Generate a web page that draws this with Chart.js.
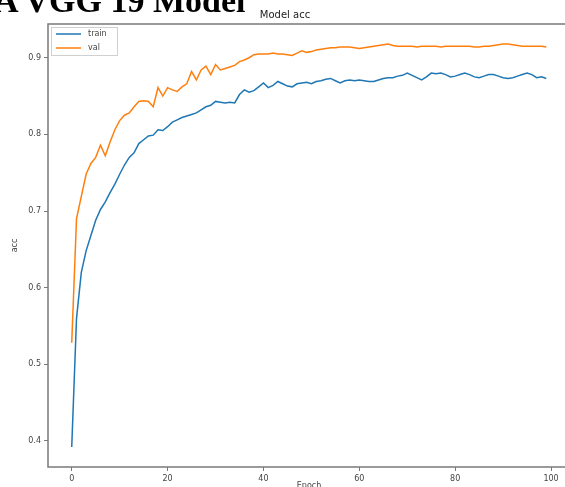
<!DOCTYPE html>
<html>
<head>
<meta charset="utf-8">
<script src="https://cdn.jsdelivr.net/npm/chart.js@4/dist/chart.umd.min.js"></script>
<style>
  html, body { margin: 0; padding: 0; background: #fff; overflow: hidden; width: 565px; height: 487px; }
  #wrap { position: relative; width: 565px; height: 487px; overflow: hidden; }
  #heading {
    position: absolute; left: -6px; top: -16.5px;
    font: bold 34px "Liberation Serif", "DejaVu Serif", serif;
    line-height: 1; color: #000; white-space: nowrap;
  }
  canvas { position: absolute; left: 0; top: 0; }
</style>
</head>
<body>
<div id="wrap">
  <canvas id="accChart" width="572" height="495"></canvas>
  <div id="heading">A VGG 19 Model</div>
</div>
<script>
// accuracy per epoch
const trainAcc = [
  0.392, 0.560, 0.620, 0.648, 0.668, 0.688, 0.702, 0.712, 0.724, 0.735,
  0.748, 0.760, 0.770, 0.776, 0.788, 0.793, 0.798, 0.799, 0.806, 0.805,
  0.810, 0.816, 0.819, 0.822, 0.824, 0.826, 0.828, 0.832, 0.836, 0.838,
  0.843, 0.842, 0.841, 0.842, 0.841, 0.852, 0.858, 0.855, 0.857, 0.862,
  0.867, 0.861, 0.864, 0.869, 0.866, 0.863, 0.862, 0.866, 0.867, 0.868,
  0.866, 0.869, 0.870, 0.872, 0.873, 0.870, 0.867, 0.870, 0.871, 0.870,
  0.871, 0.870, 0.869, 0.869, 0.871, 0.873, 0.874, 0.874, 0.876, 0.877,
  0.880, 0.877, 0.874, 0.871, 0.875, 0.880, 0.879, 0.880, 0.878, 0.875,
  0.876, 0.878, 0.880, 0.878, 0.875, 0.874, 0.876, 0.878, 0.878, 0.876,
  0.874, 0.873, 0.874, 0.876, 0.878, 0.880, 0.878, 0.874, 0.875, 0.873
];
const valAcc = [
  0.528, 0.690, 0.719, 0.748, 0.762, 0.770, 0.786, 0.772, 0.790, 0.806,
  0.818, 0.825, 0.828, 0.836, 0.843, 0.844, 0.843, 0.836, 0.861, 0.850,
  0.861, 0.858, 0.856, 0.862, 0.866, 0.882, 0.871, 0.884, 0.889, 0.878,
  0.891, 0.884, 0.886, 0.888, 0.890, 0.895, 0.897, 0.900, 0.904, 0.905,
  0.905, 0.905, 0.906, 0.905, 0.905, 0.904, 0.903, 0.906, 0.909, 0.907,
  0.908, 0.910, 0.911, 0.912, 0.913, 0.913, 0.914, 0.914, 0.914, 0.913,
  0.912, 0.913, 0.914, 0.915, 0.916, 0.917, 0.918, 0.916, 0.915, 0.915,
  0.915, 0.915, 0.914, 0.915, 0.915, 0.915, 0.915, 0.914, 0.915, 0.915,
  0.915, 0.915, 0.915, 0.915, 0.914, 0.914, 0.915, 0.915, 0.916, 0.917,
  0.918, 0.918, 0.917, 0.916, 0.915, 0.915, 0.915, 0.915, 0.915, 0.914
];
const epochs = Array.from({ length: trainAcc.length }, (_, i) => i);
const xTicks = [0, 20, 40, 60, 80, 100];
const yTicks = [0.4, 0.5, 0.6, 0.7, 0.8, 0.9];
const seriesNames = ["train", "val"];

const BLUE = "#1f77b4";
const ORANGE = "#ff7f0e";
const AXIS = "#7a7a7a";
const TEXT = "#444";

// frame round the plot area plus the in-plot legend (matplotlib style)
const framePlugin = {
  id: "frame",
  afterDatasetsDraw(chart) {
    const { ctx, chartArea: a } = chart;
    ctx.save();
    ctx.strokeStyle = AXIS;
    ctx.lineWidth = 1.5;
    ctx.strokeRect(a.left, a.top, a.right - a.left, a.bottom - a.top);

    // legend box
    const bx = a.left + 3, by = a.top + 3, bw = 66, bh = 28;
    ctx.fillStyle = "rgba(255,255,255,0.85)";
    ctx.fillRect(bx, by, bw, bh);
    ctx.strokeStyle = "#d0d0d0";
    ctx.lineWidth = 1;
    ctx.strokeRect(bx + 0.5, by + 0.5, bw, bh);
    const colors = [BLUE, ORANGE];
    ctx.font = "8px 'DejaVu Sans'";
    ctx.textBaseline = "middle";
    seriesNames.forEach((name, i) => {
      const ly = by + 7 + i * 14;
      ctx.strokeStyle = colors[i];
      ctx.lineWidth = 1.5;
      ctx.beginPath();
      ctx.moveTo(bx + 5, ly);
      ctx.lineTo(bx + 30, ly);
      ctx.stroke();
      ctx.fillStyle = TEXT;
      ctx.fillText(name, bx + 37, ly);
    });
    ctx.restore();
  },
};

new Chart(document.getElementById("accChart"), {
  type: "line",
  data: {
    datasets: [
      {
        label: seriesNames[0],
        data: epochs.map((e, i) => ({ x: e, y: trainAcc[i] })),
        borderColor: BLUE,
        borderWidth: 1.5,
        pointRadius: 0,
        tension: 0,
      },
      {
        label: seriesNames[1],
        data: epochs.map((e, i) => ({ x: e, y: valAcc[i] })),
        borderColor: ORANGE,
        borderWidth: 1.5,
        pointRadius: 0,
        tension: 0,
      },
    ],
  },
  options: {
    responsive: false,
    animation: false,
    layout: { padding: { left: 0, right: 2, top: 0, bottom: 0 } },
    plugins: {
      legend: { display: false },
      tooltip: { enabled: false },
      title: {
        display: true,
        text: "Model acc",
        color: "#222",
        font: { family: "DejaVu Sans", size: 10, weight: "normal" },
        padding: { top: 9, bottom: 3 },
      },
    },
    scales: {
      x: {
        type: "linear",
        min: -4.95,
        max: 103.95,
        afterBuildTicks: (s) => { s.ticks = xTicks.map((v) => ({ value: v })); },
        afterFit: (s) => { s.height = 28; },
        border: { display: false },
        grid: { drawOnChartArea: false, tickLength: 4, color: AXIS },
        ticks: { color: TEXT, font: { family: "DejaVu Sans", size: 8 }, padding: 3, maxRotation: 0 },
        title: { display: true, text: "Epoch", color: TEXT, font: { family: "DejaVu Sans", size: 8 }, padding: { top: 2 } },
      },
      y: {
        min: 0.366,
        max: 0.944,
        afterBuildTicks: (s) => { s.ticks = yTicks.map((v) => ({ value: v })); },
        afterFit: (s) => { s.width = 48; },
        border: { display: false },
        grid: { drawOnChartArea: false, tickLength: 4, color: AXIS },
        ticks: { color: TEXT, font: { family: "DejaVu Sans", size: 8 }, padding: 3, callback: (v) => v.toFixed(1) },
        title: { display: true, text: "acc", color: TEXT, font: { family: "DejaVu Sans", size: 8 }, padding: { top: 10 } },
      },
    },
  },
  plugins: [framePlugin],
});
</script>
</body>
</html>
